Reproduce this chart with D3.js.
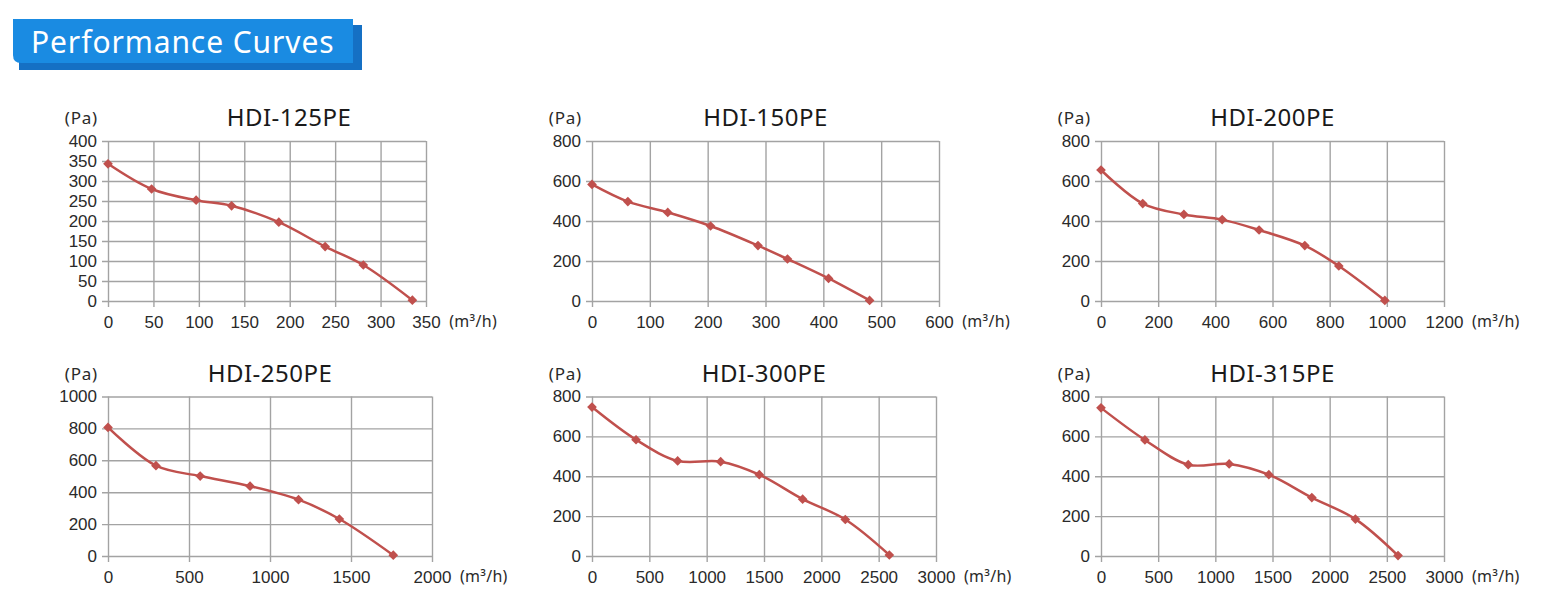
<!DOCTYPE html>
<html>
<head>
<meta charset="utf-8">
<script src="https://cdn.jsdelivr.net/npm/d3@7"></script>
<style>
  body { margin: 0; background: #fff; }
  svg text { font-family: "Noto Sans", "DejaVu Sans", sans-serif; }
  .grid line { stroke: #a3a3a3; stroke-width: 1.4; }
  .grid text { fill: #2a2a2a; font-family: "Liberation Sans", Arial, sans-serif; font-size: 17px; }
</style>
</head>
<body>
<div id="chart"></div>
<script>
// 各型号名称
const models = ["HDI-125PE", "HDI-150PE", "HDI-200PE", "HDI-250PE", "HDI-300PE", "HDI-315PE"];

// 刻度
const xTicks = [
  [0, 50, 100, 150, 200, 250, 300, 350],
  [0, 100, 200, 300, 400, 500, 600],
  [0, 200, 400, 600, 800, 1000, 1200],
  [0, 500, 1000, 1500, 2000],
  [0, 500, 1000, 1500, 2000, 2500, 3000],
  [0, 500, 1000, 1500, 2000, 2500, 3000]
];
const yTicks = [
  [0, 50, 100, 150, 200, 250, 300, 350, 400],
  [0, 200, 400, 600, 800],
  [0, 200, 400, 600, 800],
  [0, 200, 400, 600, 800, 1000],
  [0, 200, 400, 600, 800],
  [0, 200, 400, 600, 800]
];

// 风量 (m³/h) / 静压 (Pa)
const flow125 = [0, 48, 97, 136, 188, 239, 281, 335];
const press125 = [343, 280, 252, 238, 197, 136, 90, 2];
const flow150 = [0, 62, 131, 205, 287, 338, 409, 480];
const press150 = [583, 497, 443, 375, 277, 210, 113, 3];
const flow200 = [0, 146, 290, 424, 553, 713, 832, 993];
const press200 = [655, 487, 433, 407, 355, 277, 175, 3];
const flow250 = [0, 296, 569, 877, 1176, 1428, 1761];
const press250 = [806, 566, 501, 438, 353, 232, 5];
const flow300 = [0, 384, 747, 1122, 1459, 1837, 2209, 2593];
const press300 = [747, 583, 477, 473, 408, 285, 183, 5];
const flow315 = [0, 384, 763, 1121, 1468, 1844, 2225, 2598];
const press315 = [743, 582, 458, 462, 408, 293, 185, 2];

const flows = [flow125, flow150, flow200, flow250, flow300, flow315];
const pressures = [press125, press150, press200, press250, press300, press315];

// 绘图区位置
const panels = [
  { left: 108, right: 426, top: 141, bottom: 301, titleX: 289 },
  { left: 592, right: 939, top: 141, bottom: 301 },
  { left: 1101, right: 1444, top: 141, bottom: 301 },
  { left: 108, right: 432, top: 396.5, bottom: 556 },
  { left: 592, right: 936, top: 396.5, bottom: 556 },
  { left: 1101, right: 1444, top: 396.5, bottom: 556 }
];

const width = 1549, height = 600;
const lineColor = "#c0504d";

const svg = d3.select("#chart")
  .append("svg")
  .attr("width", width)
  .attr("height", height);

// 标题横幅
const banner = svg.append("g");
banner.append("rect")
  .attr("x", 19).attr("y", 25)
  .attr("width", 343).attr("height", 45)
  .attr("fill", "#1570c4");
banner.append("path")
  .attr("d", "M13,19 H353 V63 H21 Q13,63 13,55 Z")
  .attr("fill", "#1a8be2");
banner.append("text")
  .attr("x", 31).attr("y", 53)
  .attr("fill", "#fff")
  .attr("font-size", 30)
  .attr("letter-spacing", 0.9)
  .text("Performance Curves");

models.forEach((name, i) => {
  const p = panels[i];
  const xt = xTicks[i], yt = yTicks[i];

  const x = d3.scaleLinear().domain([0, d3.max(xt)]).range([p.left, p.right]);
  const y = d3.scaleLinear().domain([0, d3.max(yt)]).range([p.bottom, p.top]);
  const w = p.right - p.left, h = p.bottom - p.top;

  const g = svg.append("g");

  // 网格 + 纵轴
  g.append("g")
    .attr("class", "grid")
    .attr("transform", `translate(${p.left - 6},0)`)
    .call(d3.axisLeft(y).tickValues(yt).tickSize(-(w + 6)).tickPadding(5).tickFormat(d3.format("d")))
    .call(a => a.select(".domain").remove());

  // 网格 + 横轴
  const xa = g.append("g")
    .attr("class", "grid")
    .attr("transform", `translate(0,${p.bottom + 6})`)
    .call(d3.axisBottom(x).tickValues(xt).tickSize(-(h + 6)).tickPadding(9).tickFormat(d3.format("d")))
    .call(a => a.select(".domain").remove());

  // 单位
  const lastLabel = xa.selectAll(".tick text").nodes().pop();
  const bb = lastLabel.getBBox();
  g.append("text")
    .attr("x", x(d3.max(xt)) + bb.x + bb.width + 9)
    .attr("y", p.bottom + 6 + 9)
    .attr("dy", "0.71em")
    .attr("font-size", 16)
    .attr("letter-spacing", 0.3)
    .attr("fill", "#2a2a2a")
    .text("(m³/h)");

  g.append("text")
    .attr("x", p.left - 10)
    .attr("y", p.top - 17)
    .attr("text-anchor", "end")
    .attr("font-size", 17)
    .attr("letter-spacing", 0.8)
    .attr("fill", "#2a2a2a")
    .text("(Pa)");

  // 标题
  g.append("text")
    .attr("x", p.titleX || (p.left + p.right) / 2)
    .attr("y", p.top - 15)
    .attr("text-anchor", "middle")
    .attr("font-size", 24)
    .attr("letter-spacing", 0.5)
    .attr("fill", "#1a1a1a")
    .text(name);

  const pts = flows[i].map((f, k) => [f, pressures[i][k]]);

  const line = d3.line()
    .x(d => x(d[0]))
    .y(d => y(d[1]))
    .curve(d3.curveCatmullRom.alpha(0.5));

  g.append("path")
    .datum(pts)
    .attr("fill", "none")
    .attr("stroke", lineColor)
    .attr("stroke-width", 2.5)
    .attr("d", line);

  g.append("g")
    .selectAll("path")
    .data(pts)
    .join("path")
    .attr("transform", d => `translate(${x(d[0])},${y(d[1])})`)
    .attr("fill", lineColor)
    .attr("d", d3.symbol(d3.symbolDiamond2, 60));
});
</script>
</body>
</html>
